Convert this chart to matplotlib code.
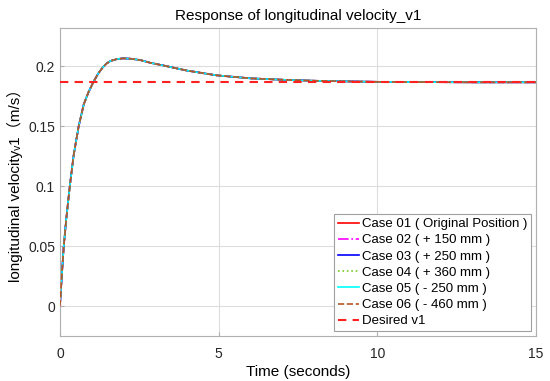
import numpy as np
import matplotlib
matplotlib.use('Agg')
from matplotlib import pyplot as plt

plt.rcParams['font.family'] = ['Liberation Sans', 'DejaVu Sans', 'Noto Sans CJK SC']

# values (all six cases overlap)
time_s = [0, 0.06, 0.12, 0.2, 0.31, 0.435, 0.59, 0.75, 0.9, 1.05, 1.2, 1.33,
          1.46, 1.59, 1.8, 2.01, 2.25, 2.54, 2.84, 3.3, 4.0, 4.94, 6.0, 7.04,
          8.0, 9.14, 10, 11, 12, 13, 14, 15]
velocity = [0, 0.026, 0.05, 0.073, 0.1, 0.1264, 0.15, 0.1683, 0.1785, 0.1867,
            0.1938, 0.1985, 0.2022, 0.2045, 0.2061, 0.2067, 0.2063, 0.2052,
            0.203, 0.2005, 0.1965, 0.1925, 0.19, 0.1888, 0.188, 0.1874,
            0.1871, 0.1869, 0.1868, 0.1867, 0.1867, 0.1867]
desired_v1 = 0.1867

case_labels = ['Case 01 ( Original Position )', 'Case 02 ( + 150 mm )',
               'Case 03 ( + 250 mm )', 'Case 04 ( + 360 mm )',
               'Case 05 ( - 250 mm )', 'Case 06 ( - 460 mm )']
case_colors = ['#ff0000', '#ff00ff', '#0000ff', '#77cc22', '#00ffff', '#b5562a']
case_styles = ['-', '-.', '-', ':', '-', '--']
case_z = [2, 2.1, 2.2, 2.5, 2.3, 2.6]

fig = plt.figure(figsize=(5.5, 3.81), dpi=100)
ax = fig.add_axes([0.109, 0.118, 0.8655, 0.8085])

for lab, col, ls, z in zip(case_labels, case_colors, case_styles, case_z):
    ax.plot(time_s, velocity, color=col, ls=ls, lw=1.2, label=lab, zorder=z)
ax.plot([0, 15], [desired_v1, desired_v1], color='#ff2020', ls=(0, (4, 3)),
        lw=1.5, label='Desired v1', zorder=3)

ax.set_xlim(0, 15)
ax.set_ylim(-0.025, 0.232)
ax.set_xticks([0, 5, 10, 15])
ax.set_yticks([0, 0.05, 0.1, 0.15, 0.2])
ax.set_yticklabels(['0', '0.05', '0.1', '0.15', '0.2'])
ax.grid(True, color='#dddddd', lw=0.8)
ax.set_axisbelow(True)
for s in ax.spines.values():
    s.set_color('#b0b0b0')
ax.tick_params(colors='#b0b0b0', labelcolor='#262626', labelsize=10,
               direction='in', length=3)
ax.tick_params(axis='x', pad=8)

ax.set_title('Response of longitudinal velocity_v1', fontsize=11, pad=6)
ax.set_xlabel('Time (seconds)', fontsize=11, labelpad=3)
ax.set_ylabel('longitudinal velocity\u1d651（m/s）', fontsize=11, labelpad=4)

leg = ax.legend(loc='lower right', fontsize=9.5, handlelength=1.6,
                handletextpad=0.2, labelspacing=0.3, borderpad=0.3,
                fancybox=False, framealpha=1, borderaxespad=0.35)
leg.get_frame().set_edgecolor('#a0a0a0')
leg.get_frame().set_linewidth(0.8)

fig.savefig('out.png', dpi=100)
